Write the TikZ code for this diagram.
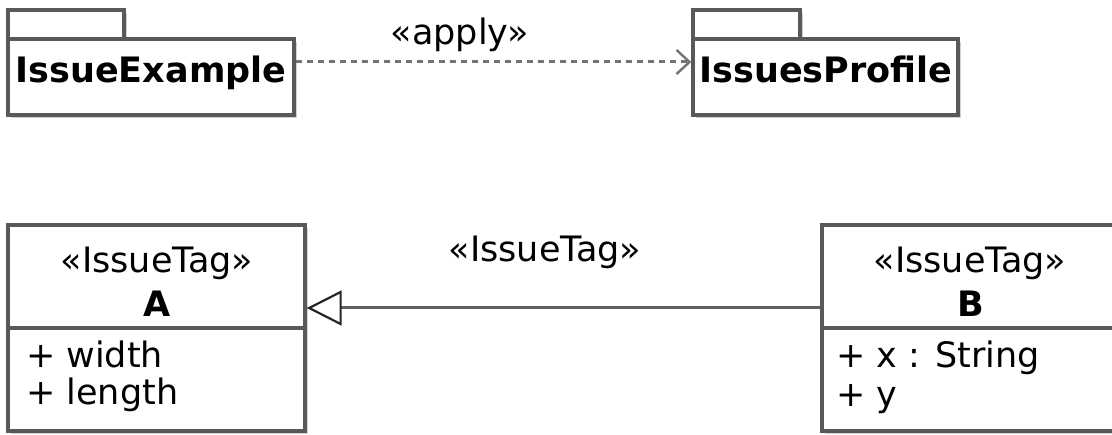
\documentclass[tikz,border=0pt]{standalone}
\usepackage{fontspec}
\setmainfont{DejaVu Sans}
\usetikzlibrary{arrows.meta}
\usetikzlibrary{shadows}

\tikzset{
  umlbox/.style={draw=black!65, line width=3.4pt, fill=white, inner sep=0pt,
    drop shadow={shadow xshift=3pt, shadow yshift=-3pt, opacity=0.18, fill=black}},
  umltext/.style={inner sep=0pt, font=\fontsize{35}{40}\selectfont},
  pkgname/.style={umltext, font=\fontsize{35}{40}\selectfont\bfseries},
  applyline/.style={draw=black!55, line width=3pt, dash pattern=on 6pt off 5pt,
    -{Straight Barb[length=13pt, width=24pt, line width=2.4pt]}},
  genline/.style={draw=black!62, line width=3pt,
    -{Triangle[open, length=35pt, width=35pt, line width=2.2pt, fill=white, color=black!85]}},
}

\begin{document}
\begin{tikzpicture}[x=1pt, y=-1pt]
  \useasboundingbox (0,0) rectangle (1112,435);
  % packages
  \node[umlbox, minimum width=116pt, minimum height=29pt] (extab) at (66,24.5) {};
  \node[umlbox, minimum width=286pt, minimum height=76pt] (example) at (151,77) {};
  \node[pkgname, anchor=base] (exname) at (151,83) {IssueExample};
  \node[umlbox, minimum width=107pt, minimum height=29pt] (prtab) at (746.5,24.5) {};
  \node[umlbox, minimum width=265pt, minimum height=76pt] (profile) at (825.5,77) {};
  \node[pkgname, anchor=base] (prname) at (826,83) {IssuesProfile};
  % apply
  \draw[applyline] ([yshift=15pt]example.east) -- ([yshift=15pt]profile.west);
  \node[umltext, anchor=base] (applylbl) at (460,45) {«apply»};
  % class A
  \node[umlbox, minimum width=297pt, minimum height=103pt] (Ahead) at (156.5,276.5) {};
  \node[umlbox, minimum width=297pt, minimum height=103pt] (Abody) at (156.5,379.5) {};
  \node[umltext, anchor=base] (Atag) at (157,273) {«IssueTag»};
  \node[umltext, anchor=base, font=\fontsize{35}{40}\selectfont\bfseries] (Aname) at (157,317) {A};
  \node[umltext, anchor=base west] (Awidth) at (26,368) {+ width};
  \node[umltext, anchor=base west] (Alength) at (26,405) {+ length};
  % class B
  \node[umlbox, minimum width=296pt, minimum height=103pt] (Bhead) at (970,276.5) {};
  \node[umlbox, minimum width=296pt, minimum height=103pt] (Bbody) at (970,379.5) {};
  \node[umltext, anchor=base] (Btag) at (970,273) {«IssueTag»};
  \node[umltext, anchor=base, font=\fontsize{35}{40}\selectfont\bfseries] (Bname) at (971,317) {B};
  \node[umltext, anchor=base west] (Bx) at (836,368) {+ x : String};
  \node[umltext, anchor=base west] (By) at (836,407) {+ y};
  % generalization
  \draw[genline] ([yshift=-31.5pt]Bhead.west) -- ([yshift=-31.5pt]Ahead.east);
  \node[umltext, anchor=base] (taglbl) at (545,262) {«IssueTag»};
\end{tikzpicture}
\end{document}
